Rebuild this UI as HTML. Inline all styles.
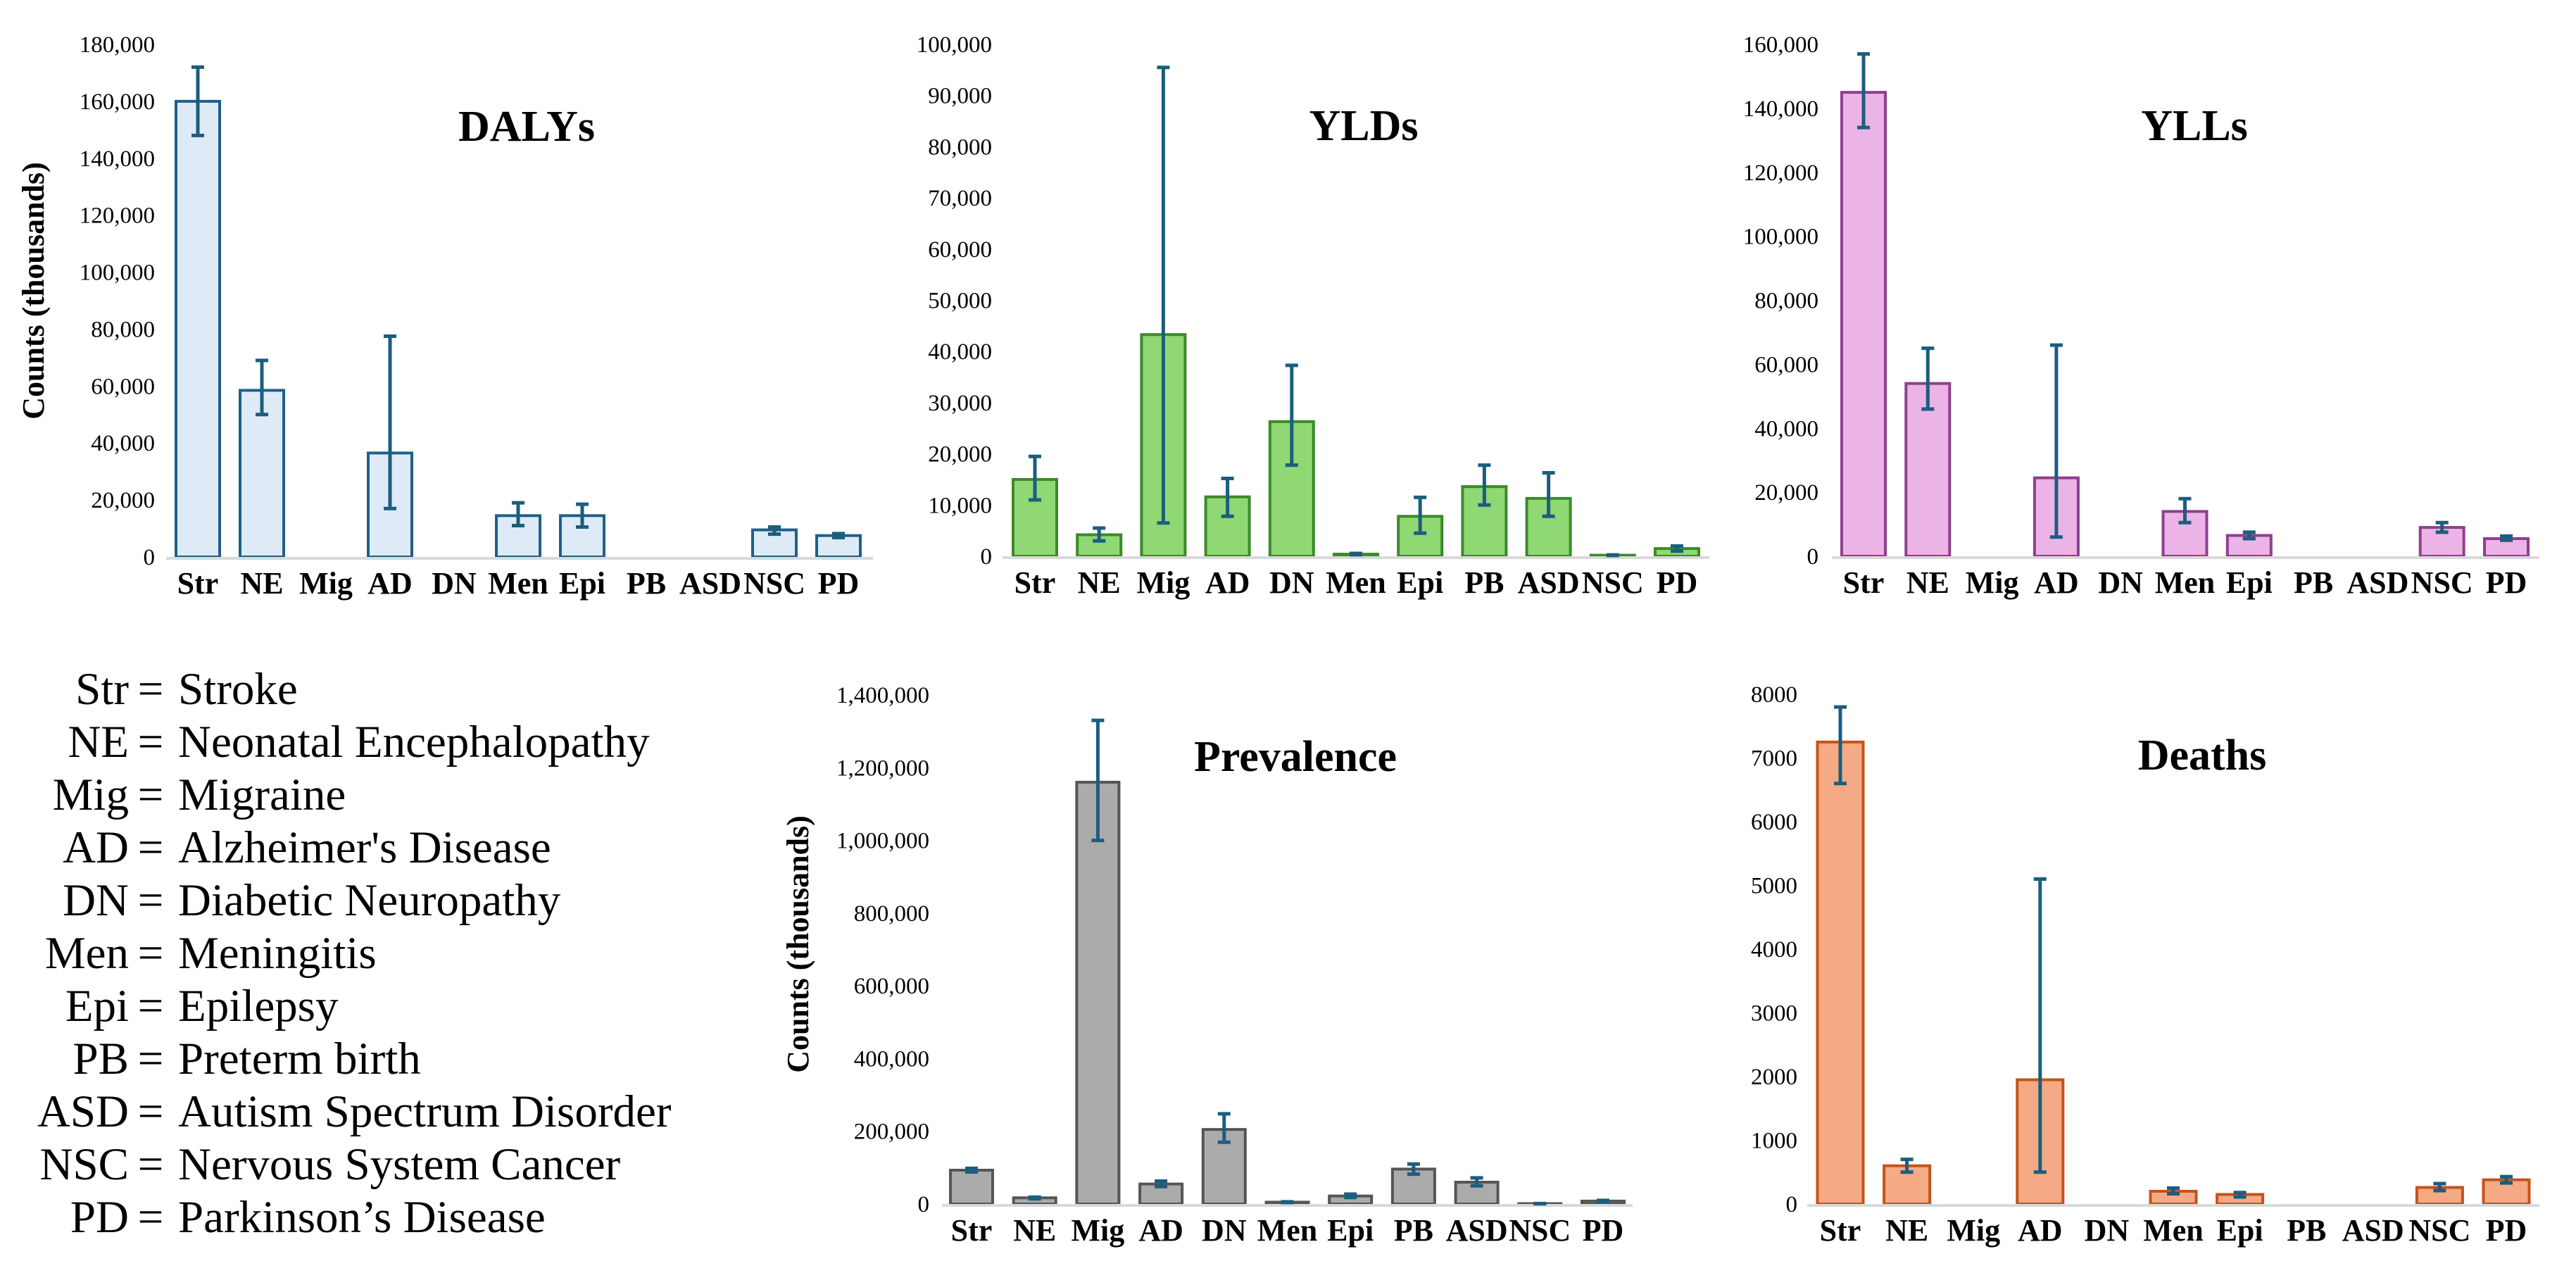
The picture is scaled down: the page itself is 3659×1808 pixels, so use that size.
<!DOCTYPE html>
<html><head><meta charset="utf-8"><style>
html,body{margin:0;padding:0;background:#fff;}
svg, svg text{font-family:"Liberation Serif","Noto Serif CJK SC","DejaVu Serif",serif;}
svg{display:block;}
</style></head><body>
<svg id="fig" width="3659" height="1808" viewBox="0 0 3659 1808" xmlns="http://www.w3.org/2000/svg">
<g id="legend" font-size="65" fill="#000"></g>
</svg>
<script>
const categories = ["Str","NE","Mig","AD","DN","Men","Epi","PB","ASD","NSC","PD"];
const legendFull = ["Stroke","Neonatal Encephalopathy","Migraine","Alzheimer's Disease","Diabetic Neuropathy","Meningitis","Epilepsy","Preterm birth","Autism Spectrum Disorder","Nervous System Cancer","Parkinson\u2019s Disease"];

const dalysValues = [160000,58500,0,36500,0,14500,14500,0,0,9500,7500];
const dalysLow    = [148000,50000,0,17000,0,11000,10500,0,0,8000,6800];
const dalysHigh   = [172000,69000,0,77500,0,19000,18500,0,0,10500,8200];
const dalysTicks  = [0,20000,40000,60000,80000,100000,120000,140000,160000,180000];

const yldsValues = [15000,4200,43300,11600,26300,400,7800,13600,11300,200,1500];
const yldsLow    = [11000,3000,6500,7800,17800,300,4500,10000,7800,150,1000];
const yldsHigh   = [19500,5500,95500,15200,37300,550,11500,17800,16300,250,2000];
const yldsTicks  = [0,10000,20000,30000,40000,50000,60000,70000,80000,90000,100000];

const yllsValues = [145000,54000,0,24500,0,14000,6500,0,0,9000,5500];
const yllsLow    = [134000,46000,0,6000,0,10500,5500,0,0,7500,5000];
const yllsHigh   = [157000,65000,0,66000,0,18000,7500,0,0,10500,6300];
const yllsTicks  = [0,20000,40000,60000,80000,100000,120000,140000,160000];

const prevValues = [93000,17000,1160000,55000,205000,5000,22000,96000,60000,1000,8000];
const prevLow    = [88000,14000,1000000,48000,170000,4000,18000,82000,50000,800,6000];
const prevHigh   = [98000,19000,1330000,63000,248000,6000,27000,110000,72000,1200,10000];
const prevTicks  = [0,200000,400000,600000,800000,1000000,1200000,1400000];

const deathValues = [7250,600,0,1950,0,200,150,0,0,260,380];
const deathLow    = [6600,500,0,500,0,160,110,0,0,210,330];
const deathHigh   = [7800,700,0,5100,0,250,180,0,0,320,430];
const deathTicks  = [0,1000,2000,3000,4000,5000,6000,7000,8000];

const NS="http://www.w3.org/2000/svg";
const svg=document.getElementById('fig');
function mk(tag,attrs,parent){const e=document.createElementNS(NS,tag);for(const k in attrs)e.setAttribute(k,attrs[k]);parent.appendChild(e);return e;}
function fmt(v,comma){return comma? v.toLocaleString('en-US') : String(v);}

function panel(cfg){
  const g=mk('g',{},svg);
  
  
  const max=cfg.ticks[cfg.ticks.length-1];
  const y=v=>cfg.y0-(v/max)*(cfg.y0-cfg.yTop);
  const x=i=>cfg.x0+i*cfg.step;
  cfg.ticks.forEach(t=>{
    const tx=mk('text',{x:cfg.tickRight,y:y(t)+11,'text-anchor':'end','font-size':33,fill:'#000'},g);
    
    
    tx.textContent=fmt(t,cfg.comma);
  });
  cfg.values.forEach((v,i)=>{
    if(v<=0) return;
    const r=mk('rect',{x:x(i)-cfg.bw/2,y:y(v),width:cfg.bw,height:cfg.y0-y(v),fill:cfg.fill,stroke:cfg.stroke,'stroke-width':4},g);
    
    
  });
  const ax=mk('line',{x1:cfg.axisStart,x2:cfg.axisEnd,y1:cfg.y0+2,y2:cfg.y0+2,stroke:'#d9d9d9','stroke-width':4},g);
  
  
  cfg.values.forEach((v,i)=>{
    if(v<=0) return;
    const eg=mk('g',{stroke:'#1b5e7e','stroke-width':5},g);
    
    
    const lo=y(cfg.low[i]),hi=y(cfg.high[i]),cx=x(i);
    mk('line',{x1:cx,x2:cx,y1:lo,y2:hi},eg);
    mk('line',{x1:cx-9,x2:cx+9,y1:lo,y2:lo},eg);
    mk('line',{x1:cx-9,x2:cx+9,y1:hi,y2:hi},eg);
  });
  categories.forEach((c,i)=>{
    const t=mk('text',{x:x(i),y:cfg.y0+52,'text-anchor':'middle','font-size':44,'font-weight':'bold',fill:'#000'},g);
    
    
    t.textContent=c;
  });
  const tt=mk('text',{x:cfg.titleX,y:cfg.titleY,'text-anchor':'middle','font-size':62,'font-weight':'bold',fill:'#000'},g);
  
  
  tt.textContent=cfg.title;
  if(cfg.yTitleX){
    const yt=mk('text',{x:0,y:0,'text-anchor':'middle','font-size':44,'font-weight':'bold',fill:'#000',transform:`translate(${cfg.yTitleX},${cfg.yTitleY}) rotate(-90)`},g);
    
    
    yt.textContent='Counts (thousands)';
  }
}

panel({name:'dalys',title:'DALYs',values:dalysValues,low:dalysLow,high:dalysHigh,ticks:dalysTicks,comma:true,
  y0:791,yTop:63,x0:281,step:91,bw:62,fill:'#deebf7',stroke:'#1f5f8b',tickRight:220,axisStart:236,axisEnd:1240,
  titleX:748,titleY:200,yTitleX:62,yTitleY:413});
panel({name:'ylds',title:'YLDs',values:yldsValues,low:yldsLow,high:yldsHigh,ticks:yldsTicks,comma:true,
  y0:790,yTop:63,x0:1470,step:91.2,bw:62,fill:'#8fd873',stroke:'#3b8a2a',tickRight:1409,axisStart:1424,axisEnd:2428,
  titleX:1937,titleY:199});
panel({name:'ylls',title:'YLLs',values:yllsValues,low:yllsLow,high:yllsHigh,ticks:yllsTicks,comma:true,
  y0:790,yTop:63,x0:2647,step:91.3,bw:62,fill:'#ebb3e6',stroke:'#8e3f8e',tickRight:2583,axisStart:2602,axisEnd:3607,
  titleX:3117,titleY:199});
panel({name:'prevalence',title:'Prevalence',values:prevValues,low:prevLow,high:prevHigh,ticks:prevTicks,comma:true,
  y0:1710,yTop:987,x0:1380,step:89.7,bw:60,fill:'#ababab',stroke:'#555555',tickRight:1320,axisStart:1338,axisEnd:2319,
  titleX:1840,titleY:1095,yTitleX:1148,yTitleY:1341});
panel({name:'deaths',title:'Deaths',values:deathValues,low:deathLow,high:deathHigh,ticks:deathTicks,comma:false,
  y0:1710,yTop:986,x0:2614,step:94.6,bw:65,fill:'#f4ab85',stroke:'#c5531b',tickRight:2553,axisStart:2567,axisEnd:3607,
  titleX:3128,titleY:1093});

const lg=document.getElementById('legend');
categories.forEach((c,i)=>{
  const yy=1000+i*75;
  const row=mk('g',{},lg);
  
  
  const a=mk('text',{x:183,y:yy,'text-anchor':'end'},row); a.textContent=c;
  const e=mk('text',{x:214,y:yy,'text-anchor':'middle'},row); e.textContent='=';
  const f=mk('text',{x:253,y:yy},row); f.textContent=legendFull[i];
});
</script>
</body></html>
